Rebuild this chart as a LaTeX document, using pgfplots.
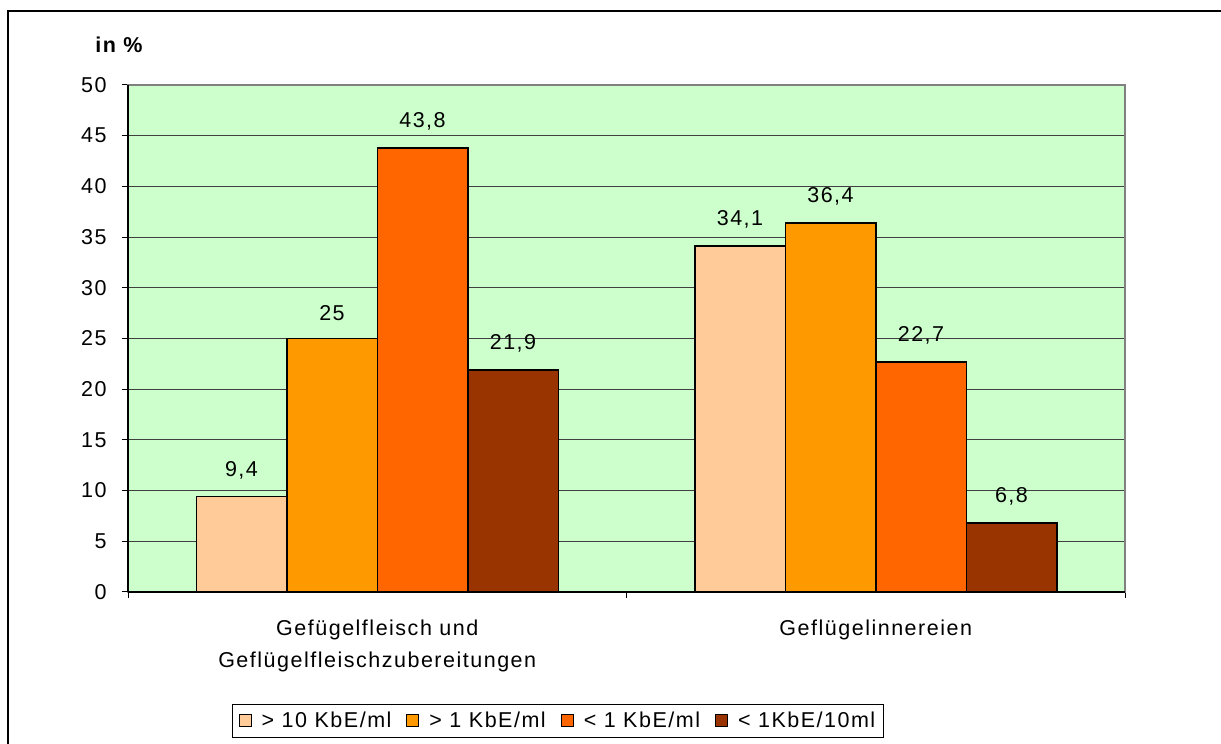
\documentclass[border=0pt]{standalone}
\usepackage{pgfplots}
\pgfplotsset{compat=1.18}
\usepackage{fontspec}
\setmainfont{Liberation Sans}[LetterSpace=7]
\definecolor{bgc}{HTML}{CCFFCC}
\definecolor{c1}{HTML}{FFCC99}
\definecolor{c2}{HTML}{FF9900}
\definecolor{c3}{HTML}{FF6600}
\definecolor{c4}{HTML}{993300}
\newcommand{\fs}{\fontsize{21.5}{26}\selectfont}
\begin{document}
\fs
\begin{tikzpicture}[x=1pt,y=1pt]
\path[use as bounding box] (0,0) rectangle (1221,744);
\draw[line width=1.2pt] (8,0) -- (8,733) -- (1221,733);
\node[font=\bfseries\fs] at (119,699) {in \%};
\begin{axis}[
  at={(128pt,152pt)}, anchor=south west,
  scale only axis, width=997pt, height=507pt,
  xmin=0, xmax=2, ymin=0, ymax=50,
  ytick={0,5,...,50},
  xtick={0,1,2}, xticklabels={},
  extra x ticks={0.5,1.5},
  extra x tick labels={{Gefügelfleisch und\\[6pt]Geflügelfleischzubereitungen},{Geflügelinnereien}},
  extra x tick style={major tick length=0pt, grid=none, tick label style={align=center, yshift=-21pt}},
  tick align=outside, major tick length=6pt,
  tick style={black, line width=1pt},
  xtick pos=left, ytick pos=left,
  ymajorgrids, grid style={black!75, line width=0.8pt},
  axis background/.style={fill=bgc},
  axis line style={draw=gray, line width=2pt},
  ybar=0pt, bar width=90.5pt,
  every axis plot/.append style={draw=black, line width=1.5pt},
  nodes near coords,
  every node near coord/.append style={font=\fs, anchor=south, yshift=10pt, text=black},
  /pgf/number format/.cd, use comma, assume math mode=true, /pgfplots/.cd,
  ticklabel style={font=\fs},
  yticklabel style={xshift=-8pt},
  legend columns=4,
  legend style={at={(0.4313,-0.2544)}, anchor=center, draw=black, line width=0.8pt,
    font=\fs, /tikz/every even column/.append style={column sep=13pt},
    /tikz/every odd column/.append style={column sep=8pt},
    inner xsep=6pt, inner ysep=5pt},
  legend image code/.code={\draw[#1, line width=1pt] (0pt,-6pt) rectangle (12pt,6pt);},
  clip=false,
]
\addplot[fill=c1] coordinates {(0.5,9.4) (1.5,34.1)};
\addplot[fill=c2] coordinates {(0.5,25) (1.5,36.4)};
\addplot[fill=c3] coordinates {(0.5,43.8) (1.5,22.7)};
\addplot[fill=c4] coordinates {(0.5,21.9) (1.5,6.8)};
\legend{> 10 KbE/ml, > 1 KbE/ml, < 1 KbE/ml, < 1KbE/10ml}
\draw[black, line width=1.2pt] (rel axis cs:0,0) -- (rel axis cs:0,1);
\draw[black, line width=1.2pt] (rel axis cs:0,0) -- (rel axis cs:1,0);
\end{axis}
\end{tikzpicture}
\end{document}
